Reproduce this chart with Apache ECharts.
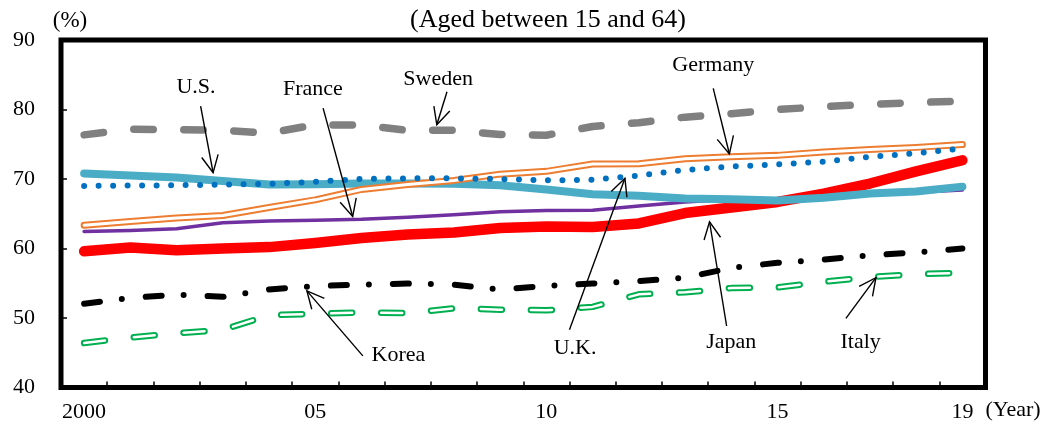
<!DOCTYPE html>
<html>
<head>
<meta charset="utf-8">
<script src="https://cdn.jsdelivr.net/npm/echarts@6/dist/echarts.min.js"></script>
<style>html,body{margin:0;padding:0;background:#fff}#c{width:1043px;height:426px}</style>
</head>
<body>
<div id="c"></div>
<script>
// ---- data ----
const years = ['2000','2001','2002','2003','2004','2005','2006','2007','2008','2009','2010','2011','2012','2013','2014','2015','2016','2017','2018','2019'];
const xTickLabels = ['2000','','','','','05','','','','','10','','','','','15','','','','19'];
const sweden  = [76.35, 77.15, 77.1, 77.0, 76.6, 77.8, 77.75, 77.0, 77.0, 76.4, 76.3, 77.55, 78.1, 78.9, 79.4, 80.0, 80.4, 80.75, 81.0, 81.2];
const us      = [70.8, 70.5, 70.2, 69.7, 69.2, 69.25, 69.35, 69.35, 69.3, 69.1, 68.5, 67.8, 67.6, 67.2, 67.1, 66.9, 67.3, 67.9, 68.2, 68.9];
const uk      = [69.0, 69.05, 69.1, 69.2, 69.3, 69.6, 70.0, 70.1, 70.1, 70.0, 69.8, 69.9, 70.5, 71.3, 71.8, 72.1, 72.5, 73.2, 73.7, 74.4];
const germany = [63.35, 63.9, 64.4, 64.75, 65.9, 67.0, 68.5, 69.2, 69.8, 70.7, 71.1, 72.15, 72.2, 72.9, 73.2, 73.4, 73.9, 74.25, 74.55, 74.95];
const france  = [62.45, 62.6, 62.85, 63.7, 63.95, 64.05, 64.2, 64.5, 64.85, 65.3, 65.45, 65.5, 66.1, 66.7, 67.1, 67.1, 67.4, 67.8, 68.1, 68.4];
const japan   = [59.6, 60.15, 59.75, 60.0, 60.2, 60.8, 61.5, 62.0, 62.3, 62.95, 63.15, 63.1, 63.6, 65.1, 65.9, 66.7, 67.9, 69.35, 71.1, 72.7];
const korea   = [52.05, 52.9, 53.35, 53.05, 54.1, 54.6, 54.8, 54.95, 54.8, 54.1, 54.6, 54.95, 55.3, 55.8, 57.2, 57.95, 58.4, 59.0, 59.45, 60.0];
const italy   = [46.4, 47.2, 47.8, 48.3, 50.4, 50.6, 50.8, 50.7, 51.4, 51.2, 51.1, 51.6, 53.4, 53.7, 54.3, 54.4, 55.2, 55.9, 56.3, 56.5];

// annotation anchors in data space: [year index, value]
const annotations = [
  {text: 'U.S.',    label: [2.42, 83.2],   tail: [2.52, 80.5],   tip: [2.79, 70.9]},
  {text: 'France',  label: [4.95, 82.95],  tail: [5.17, 80.2],   tip: [5.81, 64.6]},
  {text: 'Sweden',  label: [7.66, 84.4],   tail: [7.85, 82.55],  tip: [7.63, 77.8]},
  {text: 'Germany', label: [13.61, 86.3],  tail: [13.61, 83.05], tip: [13.96, 73.6]},
  {text: 'U.K.',    label: [10.62, 45.6],  tail: [10.50, 48.3],  tip: [11.70, 70.1]},
  {text: 'Korea',   label: [6.80, 44.7],   tail: [6.03, 44.55],  tip: [4.82, 53.9]},
  {text: 'Japan',   label: [14.0, 46.55],  tail: [13.90, 48.85], tip: [13.53, 63.85]},
  {text: 'Italy',   label: [16.80, 46.55], tail: [16.48, 49.95], tip: [17.13, 55.8]}
];

const FONT = '"Liberation Serif", "Times New Roman", serif';
const chart = echarts.init(document.getElementById('c'), null, {renderer: 'canvas'});

function lineSeries(name, data, color, width, type, z) {
  return {
    name: name, type: 'line', data: data, symbol: 'none', smooth: false, z: z,
    silent: true,
    lineStyle: {color: color, width: width, type: type || 'solid', cap: 'round', join: 'round'},
    emphasis: {disabled: true}
  };
}

chart.setOption({
  animation: false,
  backgroundColor: '#fff',
  grid: {left: 61, right: 57.5, top: 40, bottom: 38.5, show: true, borderColor: '#000', borderWidth: 5, backgroundColor: 'transparent'},
  xAxis: {
    type: 'category', data: years, boundaryGap: true,
    axisLine: {show: false},
    axisTick: {show: true, inside: true, length: 6, interval: 0, lineStyle: {color: '#000', width: 1.5}},
    axisLabel: {interval: 0, margin: 14, color: '#000', fontFamily: FONT, fontSize: 22,
      formatter: function (v, i) { return xTickLabels[i]; }},
    splitLine: {show: false}
  },
  yAxis: {
    type: 'value', min: 40, max: 90, interval: 10,
    axisLine: {show: false},
    axisTick: {show: true, inside: true, length: 6, lineStyle: {color: '#000', width: 1.5}},
    axisLabel: {margin: 26, color: '#000', fontFamily: FONT, fontSize: 22},
    splitLine: {show: false}
  },
  series: [
    lineSeries('Italy', italy, '#00B050', 6.5, [21, 29], 2),
    lineSeries('Italy core', italy, '#ffffff', 2.5, [21, 29], 3),
    lineSeries('Korea', korea, '#000000', 6, [16, 22, 0, 24], 4),
    lineSeries('France', france, '#7030A0', 3.5, 'solid', 5),
    lineSeries('Japan', japan, '#FF0000', 10.5, 'solid', 6),
    lineSeries('U.S.', us, '#4BACC6', 8, 'solid', 7),
    lineSeries('Germany', germany, '#ED7D31', 7, 'solid', 8),
    lineSeries('Germany core', germany, '#ffffff', 3, 'solid', 9),
    lineSeries('U.K.', uk, '#0070C0', 6, [0, 14.5], 10),
    lineSeries('Sweden', sweden, '#808080', 7.5, [19.5, 30.5], 11)
  ]
});

function toPx(p) {
  const a = chart.convertToPixel({gridIndex: 0}, [0, p[1]]);
  const b = chart.convertToPixel({gridIndex: 0}, [1, p[1]]);
  return [a[0] + (b[0] - a[0]) * p[0], a[1]];
}

const g = [];
annotations.forEach(function (an) {
  const t = toPx(an.tip), s = toPx(an.tail), l = toPx(an.label);
  const dx = s[0] - t[0], dy = s[1] - t[1];
  const len = Math.sqrt(dx * dx + dy * dy);
  const ux = dx / len, uy = dy / len;
  const hl = 19, ang = 26 * Math.PI / 180;
  const c = Math.cos(ang), sn = Math.sin(ang);
  const h1 = [t[0] + hl * (ux * c - uy * sn), t[1] + hl * (ux * sn + uy * c)];
  const h2 = [t[0] + hl * (ux * c + uy * sn), t[1] + hl * (-ux * sn + uy * c)];
  g.push({type: 'line', z: 50, silent: true, shape: {x1: s[0], y1: s[1], x2: t[0], y2: t[1]}, style: {stroke: '#000', lineWidth: 1.4}});
  g.push({type: 'polyline', z: 50, silent: true, shape: {points: [h1, t, h2]}, style: {stroke: '#000', lineWidth: 1.4, fill: null}});
  g.push({type: 'text', z: 50, silent: true, x: l[0], y: l[1], style: {text: an.text, font: '22px ' + FONT, fill: '#000', align: 'center', verticalAlign: 'middle'}});
});
g.push({type: 'text', z: 50, silent: true, x: 548, y: 20, style: {text: '(Aged between 15 and 64)', font: '26px ' + FONT, fill: '#000', align: 'center', verticalAlign: 'middle'}});
g.push({type: 'text', z: 50, silent: true, x: 70, y: 21, style: {text: '(%)', font: '23px ' + FONT, fill: '#000', align: 'center', verticalAlign: 'middle'}});
g.push({type: 'text', z: 50, silent: true, x: 1013, y: 410, style: {text: '(Year)', font: '22px ' + FONT, fill: '#000', align: 'center', verticalAlign: 'middle'}});
chart.setOption({graphic: g});
</script>
</body>
</html>
